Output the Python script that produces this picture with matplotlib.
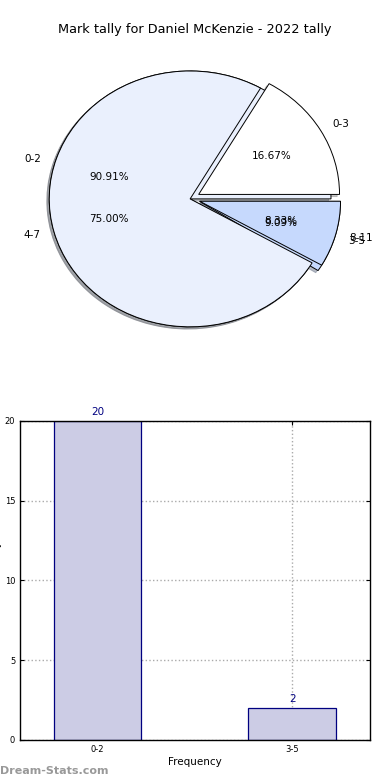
import matplotlib
matplotlib.use('Agg')
import matplotlib.pyplot as plt

title = 'Mark tally for Daniel McKenzie - 2022 tally'

# pie 1 (drawn on top)
labels_a = ['0-3', '4-7', '8-11']
values_a = [2, 9, 1]
# pie 2 (drawn underneath)
labels_b = ['0-2', '3-5']
values_b = [20, 2]

# bar chart
bar_labels = ['0-2', '3-5']
bar_values = [20, 2]

pie_colors = ['#eaf0fd', '#c6d9fd', '#ffffff']
pie_colors_a = ['#ffffff', '#eaf0fd', '#c6d9fd']

fig = plt.figure(figsize=(3.9, 7.8), dpi=100)
fig.text(0.5, 0.962, title, ha='center', va='center', fontsize=9.3)

# ---- pie ----
ax1 = fig.add_axes([0.036, 0.540, 0.903, 0.410])

def explode_for(vals):
    m = max(vals)
    return [0 if v == m else 0.07 for v in vals]

shadow_opts = {'ox': -0.012, 'oy': -0.012, 'shade': 0.45}
ax1.pie(values_b, labels=labels_b, colors=pie_colors, explode=explode_for(values_b),
        autopct='%1.2f%%', shadow=shadow_opts, startangle=0,
        wedgeprops={'edgecolor': 'black', 'linewidth': 0.7},
        textprops={'fontsize': 7.5})
ax1.pie(values_a, labels=labels_a, colors=pie_colors_a, explode=explode_for(values_a),
        autopct='%1.2f%%', shadow=shadow_opts, startangle=0,
        wedgeprops={'edgecolor': 'black', 'linewidth': 0.7},
        textprops={'fontsize': 7.5})
ax1.set_aspect('auto')
ax1.set_xlim(-1.25, 1.25)
ax1.set_ylim(-1.25, 1.25)
ax1.axis('off')

# ---- bars ----
ax2 = fig.add_axes([0.0513, 0.0513, 0.897, 0.409])
x = list(range(len(bar_values)))
ax2.bar(x, bar_values, width=0.45, color='#ccccE5', edgecolor='navy', linewidth=0.9, zorder=2)
for xi, v in zip(x, bar_values):
    ax2.text(xi, v + 0.25, str(v), ha='center', va='bottom', color='navy', fontsize=7.5)
ax2.set_xlim(-0.4, 1.4)
ax2.set_ylim(0, 20)
ax2.set_xticks(x)
ax2.set_xticklabels(bar_labels)
ax2.set_yticks([0, 5, 10, 15, 20])
ax2.tick_params(labelsize=6, direction='in', top=True, right=True, length=3)
ax2.grid(True, linestyle=':', color='#aaaaaa', linewidth=1, zorder=0)
ax2.set_axisbelow(True)
ax2.set_xlabel('Frequency', fontsize=7.5, labelpad=2)
ax2.set_ylabel('Goal Mark Tally', fontsize=7.5, labelpad=2)
for s in ax2.spines.values():
    s.set_linewidth(1)

fig.text(0.0, 0.005, 'Dream-Stats.com', fontsize=8, color='#999999', fontweight='bold', ha='left', va='bottom')

fig.savefig('out.png', dpi=100)
